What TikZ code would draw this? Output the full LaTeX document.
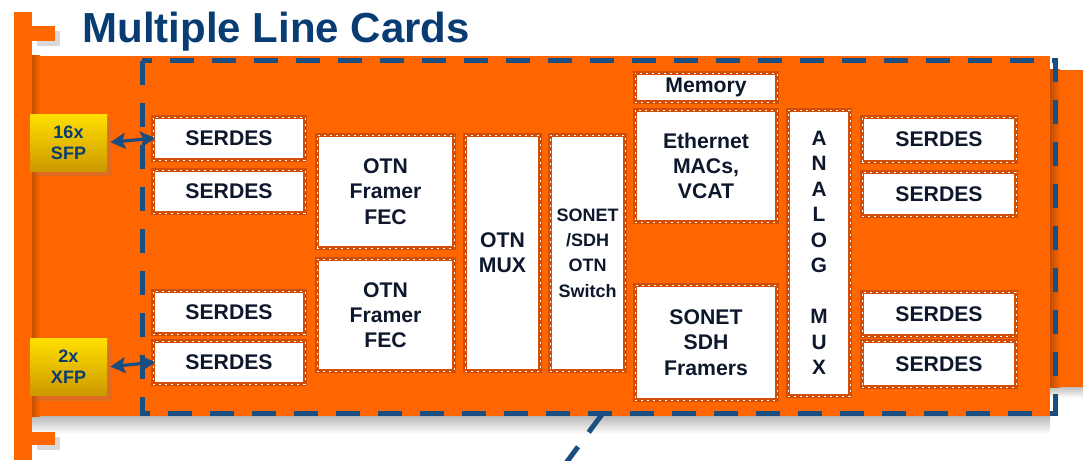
\documentclass[tikz,border=0pt]{standalone}
\usepackage{fontspec}
\setmainfont{Liberation Sans}
\usetikzlibrary{arrows.meta,shadows}

\definecolor{cardorange}{RGB}{255,102,0}
\definecolor{edgeorange}{RGB}{210,78,6}
\definecolor{linkblue}{RGB}{26,78,128}
\definecolor{titleblue}{RGB}{8,60,115}
\definecolor{inkblue}{RGB}{14,24,44}
\definecolor{sfpyellow}{RGB}{255,224,0}
\definecolor{sfpgold}{RGB}{205,152,0}

\begin{document}
\begin{tikzpicture}[x=0.5pt,y=-0.5pt,
  chip/.style={draw=edgeorange,line width=1.7pt,fill=white,inner sep=0pt,align=center,
    font=\fontsize{10.6}{12.6}\selectfont\bfseries,text=inkblue,
    postaction={draw=white,line width=0.45pt,dash pattern=on 1.2pt off 1.8pt}},
  sfpbox/.style={top color=sfpyellow,bottom color=sfpgold,inner sep=0pt,align=center,
    font=\fontsize{9}{10.5}\selectfont\bfseries,text=titleblue,
    minimum width=38.5pt,minimum height=28.5pt,drop shadow={opacity=0.25}},
  frame/.style={draw=linkblue,line width=2.5pt,dash pattern=on 12pt off 9pt},
  link/.style={draw=linkblue,line width=1.6pt,{Stealth[length=7.5pt,width=8pt,inset=1.5pt]}-{Stealth[length=7.5pt,width=8pt,inset=1.5pt]}}]
\useasboundingbox (0,0) rectangle (1090,460);

% card behind, main card and its shadows
\fill[cardorange] (1000,70) rectangle (1083,387);
\shade[top color=black!25,bottom color=white] (1040,387) rectangle (1083,398);
\shade[top color=black!28,bottom color=white] (32,416) rectangle (1050,434);
\fill[cardorange] (32,56) rectangle (1050,416);
\shade[left color=cardorange!75!black,right color=cardorange] (1050,70) rectangle (1060,387);
\shade[left color=cardorange!78!black,right color=cardorange] (32,56) rectangle (40,416);

% card edge with its two tabs
\fill[cardorange,drop shadow={opacity=0.3}] (32,26) rectangle (55,41);
\fill[cardorange,drop shadow={opacity=0.3}] (32,432) rectangle (55,445);
\fill[cardorange] (14,12) rectangle (32,460);

\node[anchor=base west,inner sep=0pt,text=titleblue,font=\fontsize{21}{24}\selectfont\bfseries] (title) at (82,43) {Multiple Line Cards};

\draw[frame] (142,61) rectangle (1055,413);
\coordinate (tailtop) at (603,413);
\coordinate (tailend) at (566,463);
\draw[frame] (tailtop) -- (tailend);

% left column
\node[chip,minimum width=76pt,minimum height=21.5pt] (serdesA) at (229,138.5) {SERDES};
\node[chip,minimum width=76pt,minimum height=21.5pt] (serdesB) at (229,191.5) {SERDES};
\node[chip,minimum width=76pt,minimum height=21.5pt] (serdesC) at (229,312.5) {SERDES};
\node[chip,minimum width=76pt,minimum height=21.5pt] (serdesD) at (229,362.5) {SERDES};
\node[chip,minimum width=68.5pt,minimum height=56.5pt] (fecA) at (385.5,191.5) {OTN\\Framer\\FEC};
\node[chip,minimum width=68.5pt,minimum height=56pt] (fecB) at (385.5,315) {OTN\\Framer\\FEC};
\node[chip,minimum width=37.5pt,minimum height=118pt] (otnmux) at (502.5,253) {OTN\\MUX};
\node[chip,minimum width=37.5pt,minimum height=118pt,font=\fontsize{9}{12.7}\selectfont\bfseries] (switch) at (587.5,253) {SONET\\/SDH\\OTN\\Switch};

% middle and right
\node[chip,minimum width=71pt,minimum height=14.5pt] (memory) at (706,87.5) {Memory};
\node[chip,minimum width=71pt,minimum height=56pt] (ethmac) at (706,166) {Ethernet\\MACs,\\VCAT};
\node[chip,minimum width=71pt,minimum height=57.5pt] (framers) at (706,342.5) {SONET\\SDH\\Framers};
\node[chip,minimum width=31pt,minimum height=143pt,font=\fontsize{10.4}{12.75}\selectfont\bfseries] (amux) at (819,253) {A\\N\\A\\L\\O\\G\\[12.75pt]M\\U\\X};
\node[chip,minimum width=77pt,minimum height=22.5pt] (serdesE) at (939,139.5) {SERDES};
\node[chip,minimum width=77pt,minimum height=22pt] (serdesF) at (939,194) {SERDES};
\node[chip,minimum width=77pt,minimum height=22pt] (serdesG) at (939,314) {SERDES};
\node[chip,minimum width=77pt,minimum height=23pt] (serdesH) at (939,364) {SERDES};

% optics
\node[sfpbox] (sfp) at (68.5,142.5) {16x\\SFP};
\node[sfpbox] (xfp) at (68.5,367) {2x\\XFP};
\draw[link,shorten <=1.5pt,shorten >=-2pt] (sfp.east) -- (serdesA.west);
\draw[link,shorten <=1.5pt,shorten >=-2pt] (xfp.east) -- (serdesD.west);
\end{tikzpicture}
\end{document}
